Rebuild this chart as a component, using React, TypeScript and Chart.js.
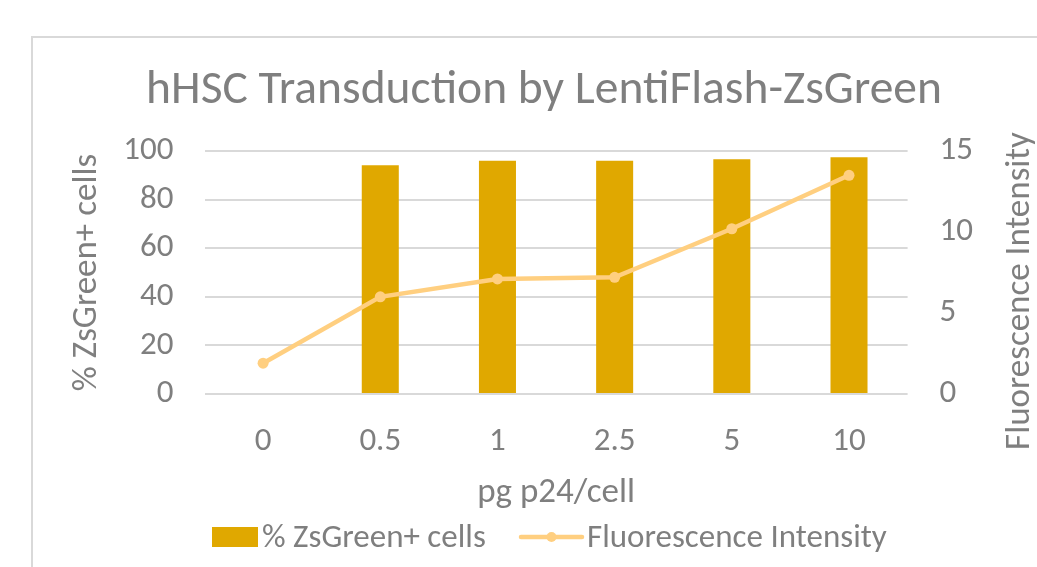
import React, { useEffect, useRef } from "react";
import { Chart, registerables } from "chart.js";

Chart.register(...registerables);

const categories = ["0", "0.5", "1", "2.5", "5", "10"];
const percentZsGreen = [0, 94.1, 96.0, 96.0, 96.6, 97.4];
const fluorescence = [1.9, 6.0, 7.1, 7.2, 10.2, 13.5];
const leftTicks = [0, 20, 40, 60, 80, 100];
const rightTicks = [0, 5, 10, 15];

const TITLE = "hHSC Transduction by LentiFlash-ZsGreen";
const X_TITLE = "pg p24/cell";
const Y_TITLE = "% ZsGreen+ cells";
const Y1_TITLE = "Fluorescence Intensity";
const BAR_LABEL = "% ZsGreen+ cells";
const LINE_LABEL = "Fluorescence Intensity";

const FONT = "Carlito, Lato, 'Open Sans', sans-serif";
const TEXT = "#7f7f7f";
const BAR = "#E0A800";
const LINE = "#FFCF80";
const GRID = "#d9d9d9";

const decorPlugin = {
  id: "decor",
  beforeDraw(chart: any) {
    const ctx = chart.ctx;
    ctx.save();
    ctx.fillStyle = "#ffffff";
    ctx.fillRect(0, 0, chart.width, chart.height);
    ctx.strokeStyle = GRID;
    ctx.lineWidth = 2;
    ctx.strokeRect(32, 37, 1100, 700);
    ctx.restore();
  },
  afterDraw(chart: any) {
    const ctx = chart.ctx;
    const area = chart.chartArea;
    ctx.save();
    ctx.fillStyle = TEXT;
    ctx.textBaseline = "middle";
    ctx.textAlign = "center";
    // title
    ctx.font = `47.5px ${FONT}`;
    ctx.fillText(TITLE, 544, 91);
    // x title
    ctx.font = `35px ${FONT}`;
    ctx.fillText(X_TITLE, (area.left + area.right) / 2, 493);
    // left y title
    ctx.save();
    ctx.translate(87, (area.top + area.bottom) / 2);
    ctx.rotate(-Math.PI / 2);
    ctx.fillText(Y_TITLE, 0, 0);
    ctx.restore();
    // right y title
    ctx.save();
    ctx.translate(1020, 291);
    ctx.rotate(-Math.PI / 2);
    ctx.fillText(Y1_TITLE, 0, 0);
    ctx.restore();
    // legend
    const ly = 537;
    ctx.font = `33px ${FONT}`;
    ctx.textAlign = "left";
    ctx.fillStyle = BAR;
    ctx.fillRect(212, ly - 10, 46, 20);
    ctx.fillStyle = TEXT;
    ctx.fillText(BAR_LABEL, 262, ly + 2);
    ctx.strokeStyle = LINE;
    ctx.lineWidth = 4.5;
    ctx.lineCap = "round";
    ctx.beginPath();
    ctx.moveTo(521, ly);
    ctx.lineTo(582, ly);
    ctx.stroke();
    ctx.fillStyle = LINE;
    ctx.beginPath();
    ctx.arc(551.5, ly, 5, 0, Math.PI * 2);
    ctx.fill();
    ctx.fillStyle = TEXT;
    ctx.fillText(LINE_LABEL, 587, ly + 2);
    ctx.restore();
  },
};

export default function App() {
  const ref = useRef<HTMLCanvasElement | null>(null);
  useEffect(() => {
    if (!ref.current) return;
    const chart = new Chart(ref.current, {
      type: "bar",
      data: {
        labels: categories,
        datasets: [
          {
            type: "line",
            label: LINE_LABEL,
            data: fluorescence,
            yAxisID: "y1",
            borderColor: LINE,
            backgroundColor: LINE,
            borderWidth: 4.5,
            pointRadius: 5.5,
            pointBorderWidth: 0,
            pointBackgroundColor: LINE,
            tension: 0,
            order: 0,
          } as any,
          {
            type: "bar",
            label: BAR_LABEL,
            data: percentZsGreen,
            yAxisID: "y",
            backgroundColor: BAR,
            borderWidth: 0,
            categoryPercentage: 1,
            barPercentage: 0.316,
            order: 1,
          } as any,
        ],
      },
      options: {
        animation: false,
        responsive: false,
        layout: { padding: { top: 151, left: 0, right: 0, bottom: 0 } },
        plugins: {
          legend: { display: false },
          title: { display: false },
          tooltip: { enabled: false },
        },
        scales: {
          x: {
            grid: { display: false, drawTicks: false },
            border: { display: false },
            ticks: {
              color: TEXT,
              font: { family: FONT, size: 33 },
              padding: 28,
            },
            afterFit(s: any) {
              s.height = 173;
            },
          },
          y: {
            position: "left",
            min: 0,
            max: 100,
            afterBuildTicks(s: any) {
              s.ticks = leftTicks.map((v) => ({ value: v }));
            },
            grid: { color: GRID, lineWidth: 2, drawTicks: false },
            border: { display: false },
            ticks: {
              color: TEXT,
              font: { family: FONT, size: 33 },
              padding: 31,
            },
            afterFit(s: any) {
              s.width = 204.5;
            },
          },
          y1: {
            position: "right",
            min: 0,
            max: 15,
            afterBuildTicks(s: any) {
              s.ticks = rightTicks.map((v) => ({ value: v }));
            },
            grid: { display: false, drawTicks: false },
            border: { display: false },
            ticks: {
              color: TEXT,
              font: { family: FONT, size: 33 },
              padding: 32,
            },
            afterFit(s: any) {
              s.width = 1037 - 907.6;
            },
          },
        },
      } as any,
      plugins: [decorPlugin],
    });
    return () => chart.destroy();
  }, []);
  return (
    <div style={{ position: "absolute", left: 0, top: 0, width: 1037, height: 567, overflow: "hidden" }}>
      <canvas ref={ref} width={1037} height={567} style={{ display: "block" }} />
    </div>
  );
}
